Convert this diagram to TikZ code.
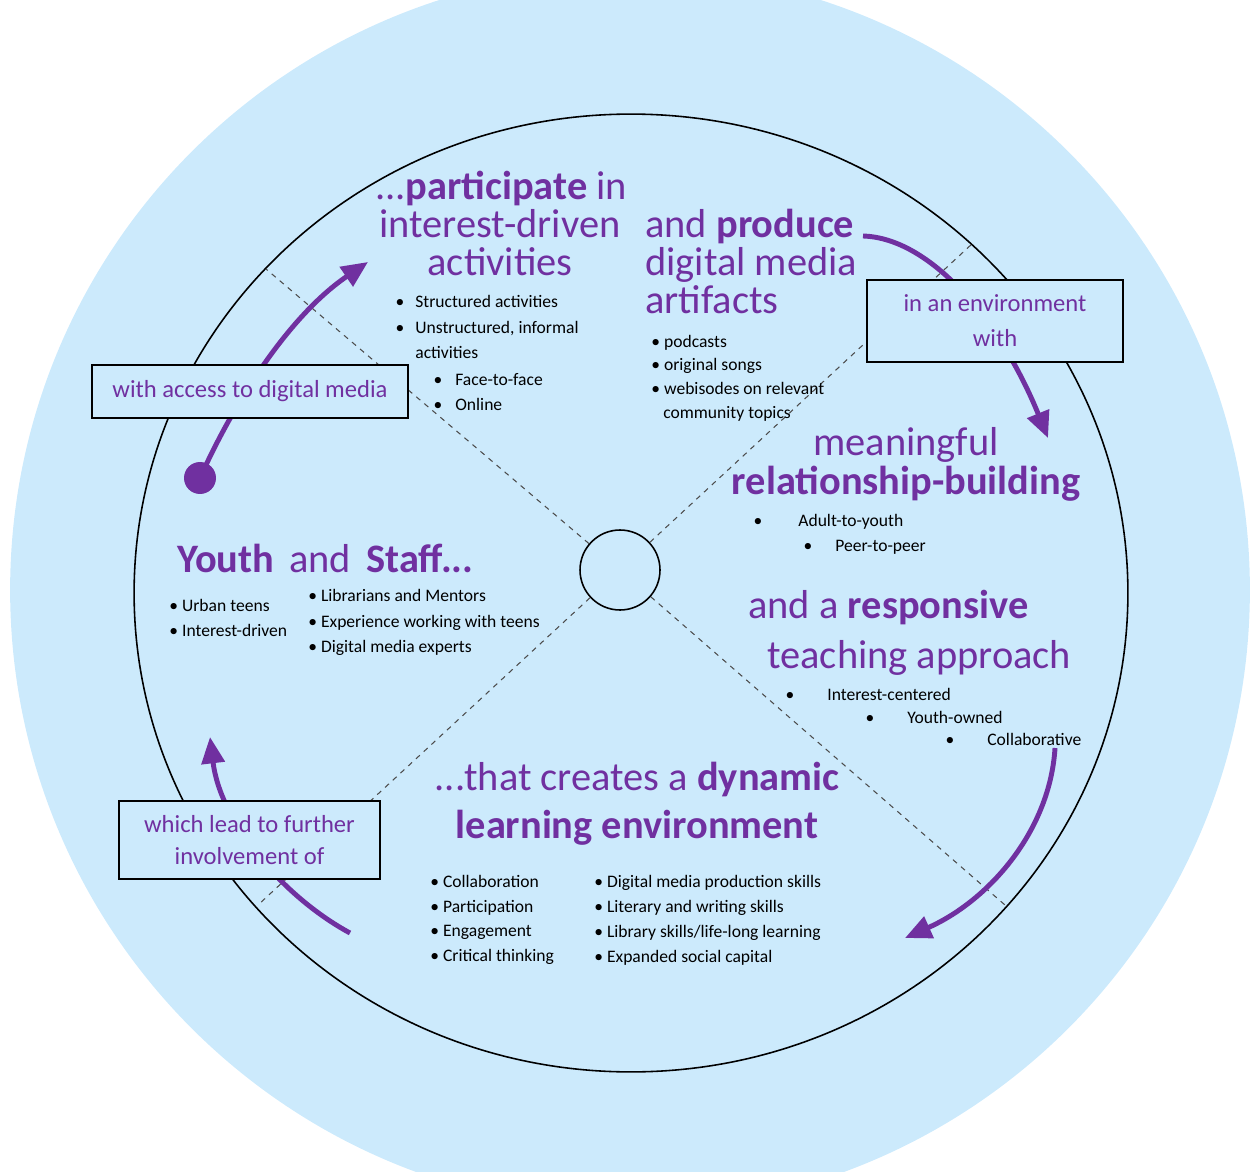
\documentclass[tikz,border=0pt]{standalone}
\usepackage{fontspec}
\setmainfont{Carlito}
\usetikzlibrary{arrows.meta}
\definecolor{bgblue}{RGB}{204,234,252}
\definecolor{txtpurple}{RGB}{112,48,160}

\begin{document}
\begin{tikzpicture}[
            x=0.02cm, y=-0.02cm,
            txt/.style = {inner sep=0pt, text height=1em, text depth=0.2em},
            heading/.style = {txt, text height=1.3em, text=txtpurple, font=\fontsize{23}{23}\selectfont},
            item/.style = {txt, anchor=west, font=\fontsize{10}{12}\selectfont},
            bul/.style = {item, anchor=center},
            label box/.style = {draw, line width=0.8pt, fill=bgblue, inner sep=0pt,
                    text=txtpurple, align=center, font=\fontsize{14}{18}\selectfont},
            flow/.style = {draw=txtpurple, line width=2.8pt,
                    -{Triangle[length=15pt, width=13pt]}},
            divider/.style = {draw=black!70, line width=0.6pt, dash pattern=on 3pt off 3pt}]

        \clip (0,0) rectangle (1250,1172);
        % discs
        \fill[bgblue] (630,590) circle [radius=12.4cm];
        \draw[line width=0.9pt] (631,593) ellipse [x radius=9.94cm, y radius=9.58cm];
        \node[circle, draw, line width=0.9pt, minimum size=1.6cm, inner sep=0pt] (hub) at (620,570) {};

        % quarters
        \coordinate (ul) at (266,269);
        \coordinate (ur) at (973,243);
        \coordinate (ll) at (258,905);
        \coordinate (lr) at (1005,905);
        \draw[divider] (hub) -- (ul);
        \draw[divider] (hub) -- (ur);
        \draw[divider] (hub) -- (ll);
        \draw[divider] (hub) -- (lr);

        % cycle arrows
        \node[circle, fill=txtpurple, minimum size=0.64cm, inner sep=0pt] (start) at (200,478) {};
        \coordinate (a1) at (368,262);
        \coordinate (a2s) at (863,236);
        \coordinate (a2) at (1048,438);
        \coordinate (a3s) at (1055,748);
        \coordinate (a3) at (905,938);
        \coordinate (a4s) at (350,933);
        \coordinate (a4) at (210,737);
        \draw[flow] (start.center) .. controls (235,400) and (290,315) .. (a1);
        \draw[flow] (a2s) .. controls (930,238) and (1000,320) .. (a2);
        \draw[flow] (a3s) .. controls (1050,830) and (990,900) .. (a3);
        \draw[flow] (a4s) .. controls (280,895) and (220,820) .. (a4);

        % boxes
        \node[label box, minimum width=6.32cm, minimum height=1.06cm] (access) at (250,391.5)
            {with access to digital media};
        \node[label box, minimum width=5.12cm, minimum height=1.64cm] (envir) at (995,321)
            {in an environment\\[2pt]with};
        \node[label box, minimum width=5.22cm, minimum height=1.56cm] (further) at (249.5,840)
            {which lead to further\\involvement of};

        % participate
        \node[heading] (part1) at (501,190) {...\textbf{participate} in};
        \node[heading] (part2) at (500,228) {interest-driven};
        \node[heading] (part3) at (500,266) {activities};
        \foreach \y/\t [count=\i] in {300/Structured activities, 326/{Unstructured, informal}} {
            \node[bul] (pb\i) at (400,\y) {\textbullet};
            \node[item] (pt\i) at (415,\y) {\t};
        }
        \node[item] (pt3) at (415,351) {activities};
        \foreach \y/\t [count=\i from 4] in {378/Face-to-face, 403/Online} {
            \node[bul] (pb\i) at (438,\y) {\textbullet};
            \node[item] (pt\i) at (455,\y) {\t};
        }

        % produce
        \node[heading, anchor=west] (prod1) at (645,228) {and \textbf{produce}};
        \node[heading, anchor=west] (prod2) at (645,266) {digital media};
        \node[heading, anchor=west] (prod3) at (645,304) {artifacts};
        \foreach \y/\t [count=\i] in {340/podcasts, 363/original songs, 387/webisodes on relevant} {
            \node[item] (art\i) at (651,\y) {\textbullet\ \t};
        }
        \node[item] (art4) at (663,411) {community topics};

        % relationships
        \node[heading] (rel1) at (906,446) {meaningful};
        \node[heading] (rel2) at (906,485) {\textbf{relationship-building}};
        \node[bul] (rb1) at (758,519) {\textbullet};
        \node[item] (rt1) at (798,519) {Adult-to-youth};
        \node[bul] (rb2) at (808,544) {\textbullet};
        \node[item] (rt2) at (835,544) {Peer-to-peer};

        % teaching
        \node[heading, anchor=west] (teach1) at (748,609) {and a \textbf{responsive}};
        \node[heading, anchor=west] (teach2) at (767,659) {teaching approach};
        \foreach \x/\y/\t [count=\i] in {790/693/Interest-centered, 870/716/Youth-owned, 950/738/Collaborative} {
            \node[bul] (tb\i) at (\x,\y) {\textbullet};
            \node[item] (tt\i) at (\x+37,\y) {\t};
        }

        % youth and staff
        \node[heading, anchor=west] (who) at (177,563)
            {\textbf{Youth}\hspace{0.15em} and\hspace{0.15em} \textbf{Staff...}};
        \node[item] (yt1) at (169,604) {\textbullet\ Urban teens};
        \node[item] (yt2) at (169,629) {\textbullet\ Interest-driven};
        \foreach \y/\t [count=\i] in {594/Librarians and Mentors, 620/Experience working with teens,
                645/Digital media experts} {
            \node[item] (st\i) at (308,\y) {\textbullet\ \t};
        }

        % learning environment
        \node[heading] (dyn1) at (637,781) {...that creates a \textbf{dynamic}};
        \node[heading] (dyn2) at (637,829) {\textbf{learning environment}};
        \foreach \y/\t [count=\i] in {880/Collaboration, 905/Participation, 929/Engagement,
                954/Critical thinking} {
            \node[item] (dl\i) at (430,\y) {\textbullet\ \t};
        }
        \node[item] (dr1) at (594,880) {\textbullet\ Digital media production skills};
        \node[item] (dr2) at (594,905) {\textbullet\ Literary and writing skills};
        \node[item] (dr3) at (594,930) {\textbullet\ Library skills/life-long learning};
        \node[item] (dr4) at (594,955) {\textbullet\ Expanded social capital};
\end{tikzpicture}
\end{document}
